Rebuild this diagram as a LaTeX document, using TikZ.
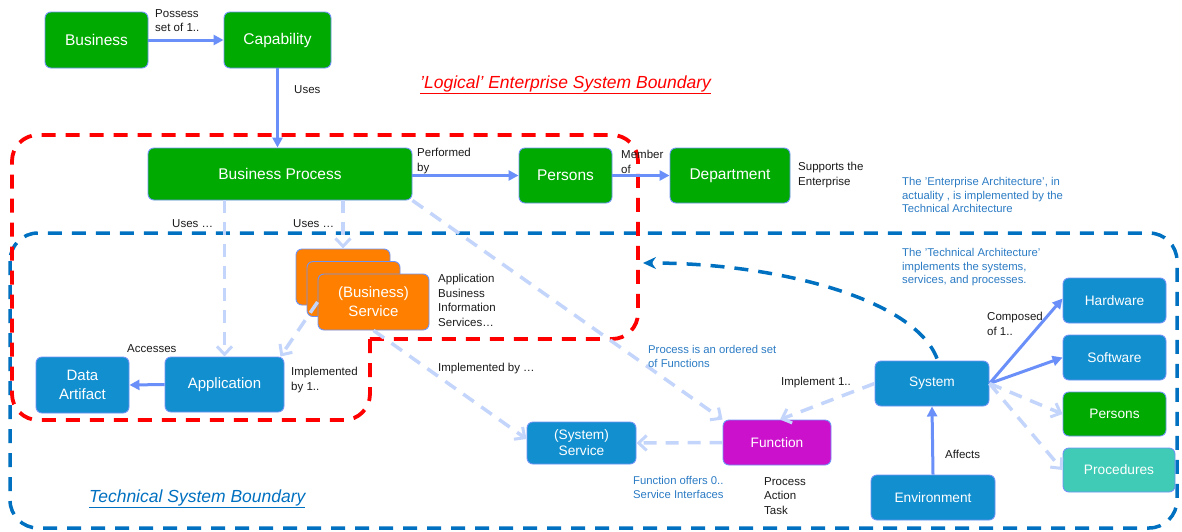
\documentclass[tikz,border=0pt]{standalone}
\usepackage{fontspec}
\setmainfont{Liberation Sans}
\usetikzlibrary{arrows.meta}
\definecolor{gfill}{HTML}{00AA00}
\definecolor{bfill}{HTML}{128FCF}
\definecolor{ofill}{HTML}{FF8000}
\definecolor{mfill}{HTML}{CC11CC}
\definecolor{tfill}{HTML}{3FCBB5}
\definecolor{edge}{HTML}{6F93F5}
\definecolor{solidarr}{HTML}{6A8FF8}
\definecolor{lightarr}{HTML}{C4D5FB}
\definecolor{notetext}{HTML}{2B7BC4}
\definecolor{bnd}{HTML}{0070C0}
\definecolor{labtext}{HTML}{1A1A1A}
\tikzset{
  box/.style={draw=edge, line width=0.9pt, rounded corners=6pt, inner sep=0pt,
    text=white, align=center},
  fbig/.style={font=\fontsize{15.5}{18}\selectfont},
  fmid/.style={font=\fontsize{15}{19}\selectfont},
  fsmall/.style={font=\fontsize{13.7}{16}\selectfont},
  lab/.style={inner sep=0pt, anchor=north west, align=left, text=labtext,
    font=\fontsize{11.5}{14.5}\selectfont},
  note/.style={inner sep=0pt, anchor=north west, align=left, text=notetext,
    font=\fontsize{11.3}{13.8}\selectfont},
  solidarrow/.style={draw=solidarr, line width=3pt,
    -{Triangle[length=10pt,width=10pt]}},
  lightarrow/.style={draw=lightarr, line width=3.5pt, dash pattern=on 13pt off 9pt,
    -{Straight Barb[length=8pt,width=15pt,line width=3pt]}},
  redbound/.style={draw=red, line width=3.8pt, dash pattern=on 14pt off 10pt},
  bluebound/.style={draw=bnd, line width=3.5pt, dash pattern=on 14pt off 10pt},
}
\begin{document}
\begin{tikzpicture}[x=1pt,y=-1pt]
\useasboundingbox (0,0) rectangle (1182,531);

% boundaries
\draw[bluebound, rounded corners=28pt] (10,233) rectangle (1177,528);
\draw[redbound, rounded corners=26pt] (370,339) -- (370,420) -- (12,420) -- (12,135) -- (638,135) -- (638,339) -- (368,339);

% top nodes
\node[box, fbig, fill=gfill, minimum width=103pt, minimum height=56pt] (business) at (96.5,40) {Business};
\node[box, fbig, fill=gfill, minimum width=107pt, minimum height=56pt] (capability) at (277.5,40) {Capability};
\node[box, fbig, fill=gfill, minimum width=264pt, minimum height=52pt] (bproc) at (280,174) {Business Process};
\node[box, fbig, fill=gfill, minimum width=93pt, minimum height=55pt] (persons) at (565.5,175.5) {Persons};
\node[box, fbig, fill=gfill, minimum width=120pt, minimum height=55pt] (dept) at (730,175.5) {Department};

% business service stack
\node[box, fill=ofill, minimum width=94pt, minimum height=56pt] (bsvcA) at (343,277) {};
\node[box, fill=ofill, minimum width=93pt, minimum height=55pt] (bsvcB) at (353.5,289) {};
\node[box, fmid, fill=ofill, minimum width=111pt, minimum height=56pt] (bsvcC) at (373.5,302) {(Business)\\Service};

\node[box, fmid, fill=bfill, minimum width=119pt, minimum height=55pt] (app) at (224.5,384.5) {Application};
\node[box, fmid, fill=bfill, minimum width=93pt, minimum height=56pt] (data) at (82.5,385) {Data\\Artifact};
\node[box, fsmall, fill=bfill, minimum width=109pt, minimum height=42pt] (ssvc) at (581.5,443) {(System)\\Service};
\node[box, fsmall, fill=mfill, minimum width=108pt, minimum height=45pt] (func) at (777,442.5) {Function};
\node[box, fsmall, fill=bfill, minimum width=114pt, minimum height=45pt] (system) at (932,383.5) {System};
\node[box, fsmall, fill=bfill, minimum width=124pt, minimum height=45pt] (env) at (933,497.5) {Environment};
\node[box, fsmall, fill=bfill, minimum width=103pt, minimum height=45pt] (hw) at (1114.5,300.5) {Hardware};
\node[box, fsmall, fill=bfill, minimum width=103pt, minimum height=45pt] (sw) at (1114.5,357.5) {Software};
\node[box, fsmall, fill=gfill, minimum width=103pt, minimum height=44pt] (persons2) at (1114.5,414) {Persons};
\node[box, fsmall, fill=tfill, minimum width=112pt, minimum height=44pt] (proc) at (1119,470) {Procedures};

% solid connectors
\draw[solidarrow] (business.east) -- (capability.west);
\draw[solidarrow] (capability.south) -- (capability.south |- bproc.north);
\draw[solidarrow] (bproc.east |- persons.west) -- (persons.west);
\draw[solidarrow] (persons.east) -- (dept.west);
\draw[solidarrow] (app.west) -- (data.east);
\draw[solidarrow] (env.north) -- (system.south);
\draw[solidarrow] (system.east) -- ([yshift=2pt]hw.west);
\draw[solidarrow] (system.east) -- (sw.west);

% light dashed connectors
\draw[lightarrow] (app.north |- bproc.south) -- (app.north);
\draw[lightarrow] (bsvcA.north |- bproc.south) -- (bsvcA.north);
\draw[lightarrow] (bsvcC.west) -- ([xshift=-4pt]app.north east);
\draw[lightarrow] (bsvcC.south) -- ([yshift=4pt]ssvc.west);
\draw[lightarrow] (bproc.south east) -- (func.north west);
\draw[lightarrow] (system.west) -- ([xshift=3pt]func.north);
\draw[lightarrow] (func.west) -- (ssvc.east);
\draw[lightarrow] (system.east) -- (persons2.west);
\draw[lightarrow] (system.east) -- (proc.west);

% blue dashed curve
\coordinate (tgt) at (643,263);
\draw[bluebound, -{Stealth[length=13pt,width=12pt]}] ([xshift=5pt,yshift=2pt]system.north) .. controls (915,300) and (780,263) .. (tgt);

% labels
\node[lab] (l1) at (155,9) {Possess\\set of 1..};
\node[lab] (l2) at (294,85) {Uses};
\node[lab] (l3) at (417,148) {Performed\\by};
\node[lab] (l4) at (621,150) {Member\\of};
\node[lab] (l5) at (798,162) {Supports the\\Enterprise};
\node[lab] (l6) at (172,219) {Uses \dots};
\node[lab] (l7) at (293,219) {Uses \dots};
\node[lab] (l8) at (438,274) {Application\\Business\\Information\\Services\dots};
\node[lab] (l9) at (291,367) {Implemented\\by 1..};
\node[lab] (l10) at (438,363) {Implemented by \dots};
\node[lab] (l11) at (127,344) {Accesses};
\node[lab] (l12) at (781,377) {Implement 1..};
\node[lab] (l13) at (764,477) {Process\\Action\\Task};
\node[lab] (l14) at (987,312) {Composed\\of 1..};
\node[lab] (l15) at (945,450) {Affects};

\node[note] (n1) at (902,177) {The 'Enterprise Architecture', in\\actuality , is implemented by the\\Technical Architecture};
\node[note] (n2) at (902,248) {The 'Technical Architecture'\\implements the systems,\\services, and processes.};
\node[note] (n3) at (648,345) {Process is an ordered set\\of Functions};
\node[note] (n4) at (633,476) {Function offers 0..\\Service Interfaces};

\node[inner sep=0pt, anchor=base west, text=red, font=\fontsize{17.5}{20}\selectfont\itshape] (t1) at (420,88) {\underline{'Logical' Enterprise System Boundary}};
\node[inner sep=0pt, anchor=base west, text=bnd, font=\fontsize{17.5}{20}\selectfont\itshape] (t2) at (89,502) {\underline{Technical System Boundary}};
\end{tikzpicture}
\end{document}
